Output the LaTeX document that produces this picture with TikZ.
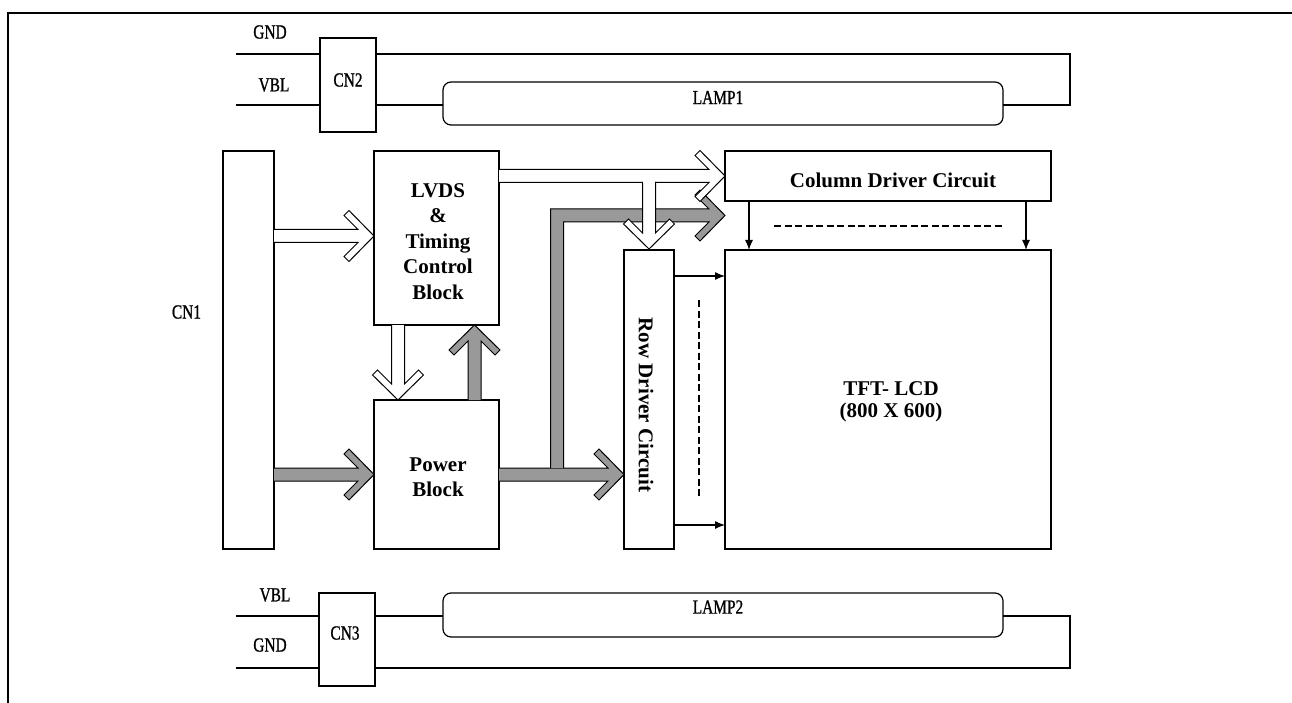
\documentclass[tikz,border=0pt]{standalone}
\usepackage{fontspec}
\setmainfont{Liberation Serif}
\newfontfamily\lblfont[FakeStretch=0.77,FakeBold=1]{Liberation Serif}
\usetikzlibrary{arrows.meta,calc}
\definecolor{fatgray}{RGB}{153,153,153}
\newcommand\fatarr[4]{%
  \begin{scope}[shift={#2},rotate=#3]
    \filldraw[fat,#1] (-#4,6.5) -- (-16,6.5) -- (-30,20.5) -- (-25,25.5) -- (0,0) -- (-25,-25.5) -- (-30,-20.5) -- (-16,-6.5) -- (-#4,-6.5);
  \end{scope}}
\begin{document}
\begin{tikzpicture}[x=1pt,y=-1pt,
  box/.style={draw, line width=1.2pt, inner sep=0pt, outer sep=0pt, fill=white},
  wire/.style={line width=1.6pt},
  fat/.style={draw, line width=1pt, line join=miter},
  tarr/.style={line width=1.2pt, -{Latex[length=10pt,width=8pt]}},
  dsh/.style={line width=2pt, dash pattern=on 7pt off 3.5pt},
  bt/.style={font=\bfseries\fontsize{21pt}{25.5pt}\selectfont, align=center, inner sep=0pt},
  lbl/.style={font=\lblfont\fontsize{20pt}{24pt}\selectfont, inner sep=0pt}]
\useasboundingbox (0,0) rectangle (1292,703);
\draw[line width=1.5pt] (8,703) -- (8,13) -- (1292,13);

% boxes
\node[box, minimum width=51pt, minimum height=398pt] (cn1) at (248.5,350) {};
\node[box, minimum width=125pt, minimum height=174pt] (lvds) at (436.5,238) {};
\node[box, minimum width=125pt, minimum height=149pt] (pwr) at (436.5,474.5) {};
\node[box, minimum width=326pt, minimum height=50pt] (col) at (888,176) {};
\node[box, minimum width=50pt, minimum height=299pt] (row) at (649,399.5) {};
\node[box, minimum width=326pt, minimum height=299pt] (tft) at (888,399.5) {};
\node[box, minimum width=56pt, minimum height=94pt] (cn2) at (348,85) {};
\node[box, minimum width=56pt, minimum height=93pt] (cn3) at (347,639.5) {};
\node[box, rounded corners=8pt, minimum width=560pt, minimum height=43pt] (lamp1) at (723,103.5) {};
\node[box, rounded corners=8pt, minimum width=560pt, minimum height=44pt] (lamp2) at (723,615) {};

% texts
\node[bt] (lvdsT) at (438,241.5) {LVDS\\\&\\Timing\\Control\\Block};
\node[bt] (pwrT) at (438,477) {Power\\Block};
\node[bt] (colT) at (893,180) {Column Driver Circuit};
\node[bt, rotate=-90] (rowT) at (646,405) {Row Driver Circuit};
\node[bt, font=\bfseries\fontsize{21pt}{22pt}\selectfont] (tftT) at (891,402) {TFT- LCD\\(800 X 600)};
\node[lbl] (cn1T) at (186.5,312) {CN1};
\node[lbl] (cn2T) at (348,80) {CN2};
\node[lbl] (cn3T) at (345,633) {CN3};
\node[lbl] (lamp1T) at (718,97.5) {LAMP1};
\node[lbl] (lamp2T) at (718,607) {LAMP2};
\node[lbl] (gnd1T) at (270,32) {GND};
\node[lbl] (vbl1T) at (274,85) {VBL};
\node[lbl] (vbl2T) at (275,595) {VBL};
\node[lbl] (gnd2T) at (270,645) {GND};

% top lamp wiring
\coordinate (gndA) at (236,54);
\coordinate (vblA) at (236,105);
\coordinate (rt1) at (1070,54);
\coordinate (rt2) at (1070,105);
\draw[wire] (gndA) -- (gndA -| cn2.west);
\draw[wire] (cn2.east |- gndA) -- (rt1) -- (rt2) -- (lamp1.east |- rt2);
\draw[wire] (vblA) -- (vblA -| cn2.west);
\draw[wire] (cn2.east |- vblA) -- (lamp1.west |- vblA);

% bottom lamp wiring
\coordinate (vblB) at (236,616);
\coordinate (gndB) at (236,668);
\coordinate (rb1) at (1070,616);
\coordinate (rb2) at (1070,668);
\draw[wire] (vblB) -- (vblB -| cn3.west);
\draw[wire] (cn3.east |- vblB) -- (lamp2.west |- vblB);
\draw[wire] (lamp2.east |- rb1) -- (rb1) -- (rb2) -- (cn3.east |- rb2);
\draw[wire] (gndB) -- (gndB -| cn3.west);

% thin arrows
\coordinate (ca) at (749,0);
\coordinate (cb) at (1026,0);
\draw[tarr] (col.south -| ca) -- (tft.north -| ca);
\draw[tarr] (col.south -| cb) -- (tft.north -| cb);
\draw[tarr] (row.east |- 0,276) -- (tft.west |- 0,276);
\draw[tarr] (row.east |- 0,525) -- (tft.west |- 0,525);
\draw[dsh] (774,226) -- (1002,226);
\draw[dsh] (699,300) -- (699,498);

% fat arrows
\fatarr{fill=white}{(374,236)}{0}{100}
\fatarr{fill=fatgray}{(374,474.5)}{0}{100}
\fatarr{fill=white}{(398,400)}{-90}{75}
\fatarr{fill=fatgray}{(474.5,325)}{90}{75}
\fatarr{fill=fatgray}{(624,474.5)}{0}{125}
\filldraw[fat, fill=fatgray] (550.5,468) -- (550.5,209) -- (709,209) -- (695,195) -- (700,190) -- (725,215.5) -- (700,241) -- (695,236) -- (709,222) -- (563.5,222) -- (563.5,468);
\fatarr{fill=white}{(725,176)}{0}{226}
\fatarr{fill=white}{(649,249)}{-90}{67}
\fill[white] (643.3,180.5) rectangle (654.7,183.5);
\end{tikzpicture}
\end{document}
